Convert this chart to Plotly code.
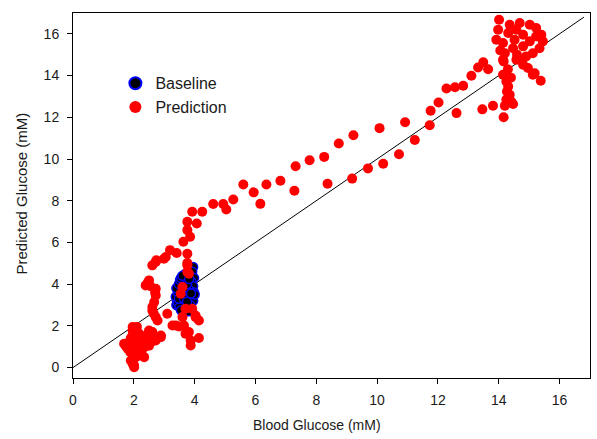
import plotly.graph_objects as go

# Baseline (black with blue edge)
base_x = [3.40, 3.42, 3.38, 3.45, 3.40, 3.48, 3.52, 3.55, 3.45, 3.50, 3.55, 3.60, 3.48,
          3.95, 3.92, 3.85, 3.98, 3.90, 3.95, 3.85, 3.98, 3.90, 3.95, 3.85, 3.80, 3.70,
          3.75, 3.70, 3.65, 3.75, 3.80, 3.60, 3.82, 4.00, 3.88]
base_y = [3.00, 3.20, 3.40, 3.60, 3.80, 4.00, 4.20, 4.30, 3.10, 2.90, 2.75, 3.50, 3.30,
          4.82, 4.60, 4.40, 4.30, 4.10, 3.90, 3.70, 3.60, 3.40, 3.20, 3.00, 2.85, 3.85,
          4.00, 4.50, 3.30, 3.15, 2.70, 4.40, 4.25, 3.50, 3.55]

# Prediction (red)
pred_x = [1.68, 1.74, 1.80, 1.85, 1.90, 1.96, 2.01, 2.01, 1.96, 1.96, 2.01, 1.90, 1.96, 2.05,
          2.10, 2.07, 2.12, 2.18, 2.23, 2.20, 2.28, 2.34, 2.34, 2.30, 2.40, 2.45, 2.50, 2.45,
          2.55, 2.61, 2.72, 2.89, 2.89, 2.02, 1.88, 2.15, 2.25, 2.38, 2.50, 2.60, 1.95, 2.10,
          2.61, 2.61, 2.67, 2.72, 2.72, 2.39, 2.50, 2.61, 2.72, 2.74, 2.99, 3.05, 2.78, 2.72,
          2.65, 2.55, 2.70, 2.45,
          3.10, 3.27, 3.38, 3.49, 3.65, 3.70, 3.81, 3.87, 4.14, 3.87, 3.60, 3.70, 3.92, 4.03,
          4.14, 4.03, 3.60, 3.54, 3.76, 3.81, 3.76, 3.76, 3.19, 3.41, 3.76, 3.63, 3.85, 3.76,
          3.76, 4.07, 3.92, 4.25,
          4.61, 4.94, 5.04, 5.27, 5.60, 5.94, 6.16, 6.36, 6.82, 7.28, 7.32, 7.78, 8.26, 8.37,
          8.74, 9.22, 9.18, 9.70, 10.08, 10.20, 10.72, 10.92, 11.24, 11.73, 11.76, 12.02,
          12.28, 12.56, 12.83, 12.61, 13.10, 13.32, 13.49, 13.65, 13.46, 13.81,
          14.16, 14.20, 14.47, 14.41, 14.36, 14.27, 14.31, 14.25, 14.14, 14.16, 14.58, 14.80,
          14.96, 15.12, 15.18, 15.38, 14.01, 13.98, 13.92, 14.14, 14.20, 14.14, 14.36, 14.69,
          15.02, 15.23, 15.40, 15.45, 15.34, 15.12, 14.90, 14.69, 14.52, 14.80, 15.02, 14.80,
          14.47, 14.31, 14.58, 15.23, 14.30, 14.40, 14.05, 14.60, 14.25]
pred_y = [1.14, 1.02, 0.90, 1.22, 0.34, 0.18, 0.02, 0.10, 1.78, 1.94, 1.60, 1.40, 1.10, 1.30,
          0.66, 0.50, 0.80, 1.00, 1.54, 1.20, 0.90, 0.98, 0.50, 1.35, 1.20, 1.14, 1.78, 1.60,
          1.40, 1.70, 1.30, 1.46, 1.54, 0.80, 0.75, 1.65, 0.72, 1.45, 1.05, 1.25, 1.50, 1.95,
          2.74, 2.90, 3.14, 3.46, 3.78, 3.94, 4.18, 4.90, 5.06, 5.14, 5.22, 5.30, 2.26, 2.42,
          2.60, 3.90, 3.60, 4.05,
          2.58, 2.02, 2.02, 1.97, 2.02, 1.62, 1.70, 1.30, 1.42, 1.06, 2.42, 2.82, 2.82, 2.50,
          2.26, 2.42, 3.86, 3.54, 4.58, 4.50, 4.90, 5.01, 5.63, 5.49, 5.46, 6.03, 6.27, 6.59,
          6.99, 6.91, 7.47, 7.47,
          7.84, 7.84, 7.58, 8.06, 8.78, 8.40, 7.85, 8.78, 8.96, 8.48, 9.65, 9.94, 10.10, 8.81,
          10.74, 11.14, 9.06, 9.55, 11.48, 9.77, 10.23, 11.76, 10.91, 11.62, 12.31, 12.71,
          13.38, 13.44, 13.51, 12.20, 13.99, 14.39, 14.64, 14.30, 12.38, 12.55,
          12.00, 12.55, 12.64, 12.76, 13.08, 13.24, 13.48, 13.72, 14.04, 14.68, 14.76, 14.52,
          14.36, 14.04, 14.11, 13.75, 16.68, 16.20, 15.72, 15.56, 15.07, 14.76, 16.44, 16.52,
          16.44, 16.28, 15.96, 15.64, 15.31, 15.07, 14.92, 14.76, 15.72, 15.96, 15.64, 15.40,
          15.31, 16.04, 16.20, 15.88, 14.30, 13.90, 15.20, 15.00, 12.85]

# Identity line
line_x = [0, 16.8]
line_y = [0, 16.8]

x_ticks = [0, 2, 4, 6, 8, 10, 12, 14, 16]
y_ticks = [0, 2, 4, 6, 8, 10, 12, 14, 16]

x_title = "Blood Glucose (mM)"
y_title = "Predicted Glucose (mM)"

FONT = "Liberation Sans, Arial, sans-serif"
TXT = "#1a1a1a"

fig = go.Figure()
fig.add_trace(go.Scatter(x=line_x, y=line_y, mode="lines",
                         line=dict(color="black", width=1), showlegend=False,
                         hoverinfo="skip"))
fig.add_trace(go.Scatter(x=base_x, y=base_y, mode="markers", name="Baseline",
                         marker=dict(size=9, color="black",
                                     line=dict(color="#0000ff", width=1.5))))
fig.add_trace(go.Scatter(x=pred_x, y=pred_y, mode="markers", name="Prediction",
                         marker=dict(size=10, color="#ff0000", line=dict(width=0))))

fig.update_layout(
    width=597, height=439,
    margin=dict(l=73, r=7, t=13, b=61),
    paper_bgcolor="white", plot_bgcolor="white",
    font=dict(family=FONT, color=TXT),
    legend=dict(x=0.082, y=0.854, xanchor="left", yanchor="top",
                bgcolor="rgba(0,0,0,0)", font=dict(size=16, family=FONT, color=TXT),
                tracegroupgap=0, itemsizing="constant"),
    annotations=[
        dict(text=x_title, xref="paper", yref="paper", x=0.472, y=-0.129,
             xanchor="center", yanchor="middle", showarrow=False,
             font=dict(size=14, family=FONT, color=TXT)),
        dict(text=y_title, xref="paper", yref="paper", x=-0.099, y=0.505,
             xanchor="center", yanchor="middle", showarrow=False, textangle=-90,
             font=dict(size=15, family=FONT, color=TXT)),
    ],
)
fig.update_xaxes(range=[0, 17], tickvals=x_ticks, ticks="outside", ticklen=5,
                 tickcolor="black", showline=True, linecolor="black", linewidth=1,
                 mirror=True, showgrid=False, zeroline=False, ticklabelstandoff=4,
                 tickfont=dict(size=14, family=FONT, color=TXT))
fig.update_yaxes(range=[-0.5, 17], tickvals=y_ticks, ticks="outside", ticklen=5,
                 tickcolor="black", showline=True, linecolor="black", linewidth=1,
                 mirror=True, showgrid=False, zeroline=False, ticklabelstandoff=5,
                 tickfont=dict(size=14, family=FONT, color=TXT))

fig.write_html("out.html")
